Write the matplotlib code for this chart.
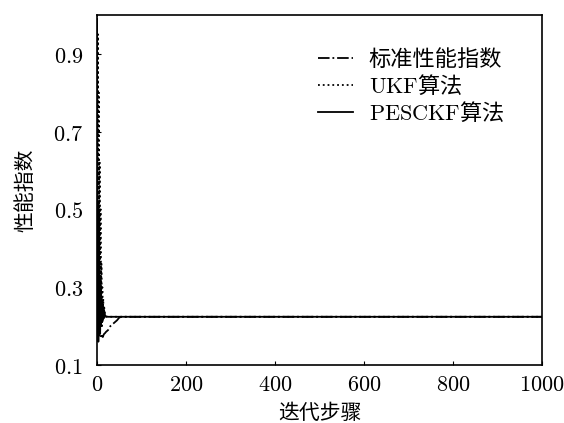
import numpy as np
import matplotlib
matplotlib.use("Agg")
import matplotlib.pyplot as plt
from matplotlib.ticker import FixedLocator, FuncFormatter

plt.rcParams['font.family'] = ['Noto Sans CJK SC', 'DejaVu Sans']
plt.rcParams['mathtext.fontset'] = 'cm'

# Data (iteration step -> performance index)
steps = [0, 1, 2, 3, 4, 5, 6, 7, 8, 9, 10, 11, 12, 13, 14, 15, 16, 18, 20,
         25, 30, 35, 40, 45, 50, 55, 1000]
standard = [0.99, 0.40, 0.22, 0.19, 0.18, 0.175, 0.17, 0.17, 0.172, 0.175, 0.18,
            0.178, 0.175, 0.172, 0.175, 0.178, 0.18, 0.182, 0.185,
            0.19, 0.20, 0.205, 0.21, 0.215, 0.222, 0.224, 0.224]
ukf = [1.0, 0.20, 0.95, 0.18, 0.80, 0.20, 0.62, 0.19, 0.50, 0.21, 0.36,
       0.20, 0.30, 0.21, 0.27, 0.22, 0.25, 0.23, 0.224,
       0.224, 0.224, 0.224, 0.224, 0.224, 0.224, 0.224, 0.224]
pesckf = [0.99, 0.17, 0.52, 0.16, 0.45, 0.19, 0.33, 0.18, 0.30, 0.20, 0.27,
          0.21, 0.26, 0.22, 0.25, 0.22, 0.24, 0.228, 0.225,
          0.224, 0.224, 0.224, 0.224, 0.224, 0.224, 0.224, 0.224]

labels = ['标准性能指数', r'$\mathrm{UKF}$算法', r'$\mathrm{PESCKF}$算法']
x_ticks = [0, 200, 400, 600, 800, 1000]
y_ticks = [0.1, 0.3, 0.5, 0.7, 0.9]

fig = plt.figure(figsize=(5.64, 4.23), dpi=100)
ax = fig.add_axes([0.172, 0.137, 0.789, 0.828])

ax.plot(steps, standard, color='black', linestyle='-.', linewidth=1.3, label=labels[0])
ax.plot(steps, ukf, color='black', linestyle=':', linewidth=1.3, label=labels[1])
ax.plot(steps, pesckf, color='black', linestyle='-', linewidth=1.3, label=labels[2])

ax.set_xlim(0, 1000)
ax.set_ylim(0.1, 1.0)
ax.xaxis.set_major_locator(FixedLocator(x_ticks))
ax.yaxis.set_major_locator(FixedLocator(y_ticks))
ax.xaxis.set_major_formatter(FuncFormatter(lambda v, p: r'$%d$' % v))
ax.yaxis.set_major_formatter(FuncFormatter(lambda v, p: r'$%.1f$' % v))
ax.tick_params(direction='in', length=3, labelsize=16, width=0.8, pad=6)
ax.tick_params(axis='y', pad=10)
for s in ax.spines.values():
    s.set_linewidth(1.2)

ax.set_xlabel('迭代步骤', fontsize=15, labelpad=4)
ax.set_ylabel('性能指数', fontsize=15, labelpad=12)

ax.legend(loc='upper right', bbox_to_anchor=(0.935, 0.93), borderaxespad=0,
          frameon=False, fontsize=16, handlelength=1.6, labelspacing=0.12,
          handletextpad=0.7)

fig.savefig('out.png', dpi=100)
